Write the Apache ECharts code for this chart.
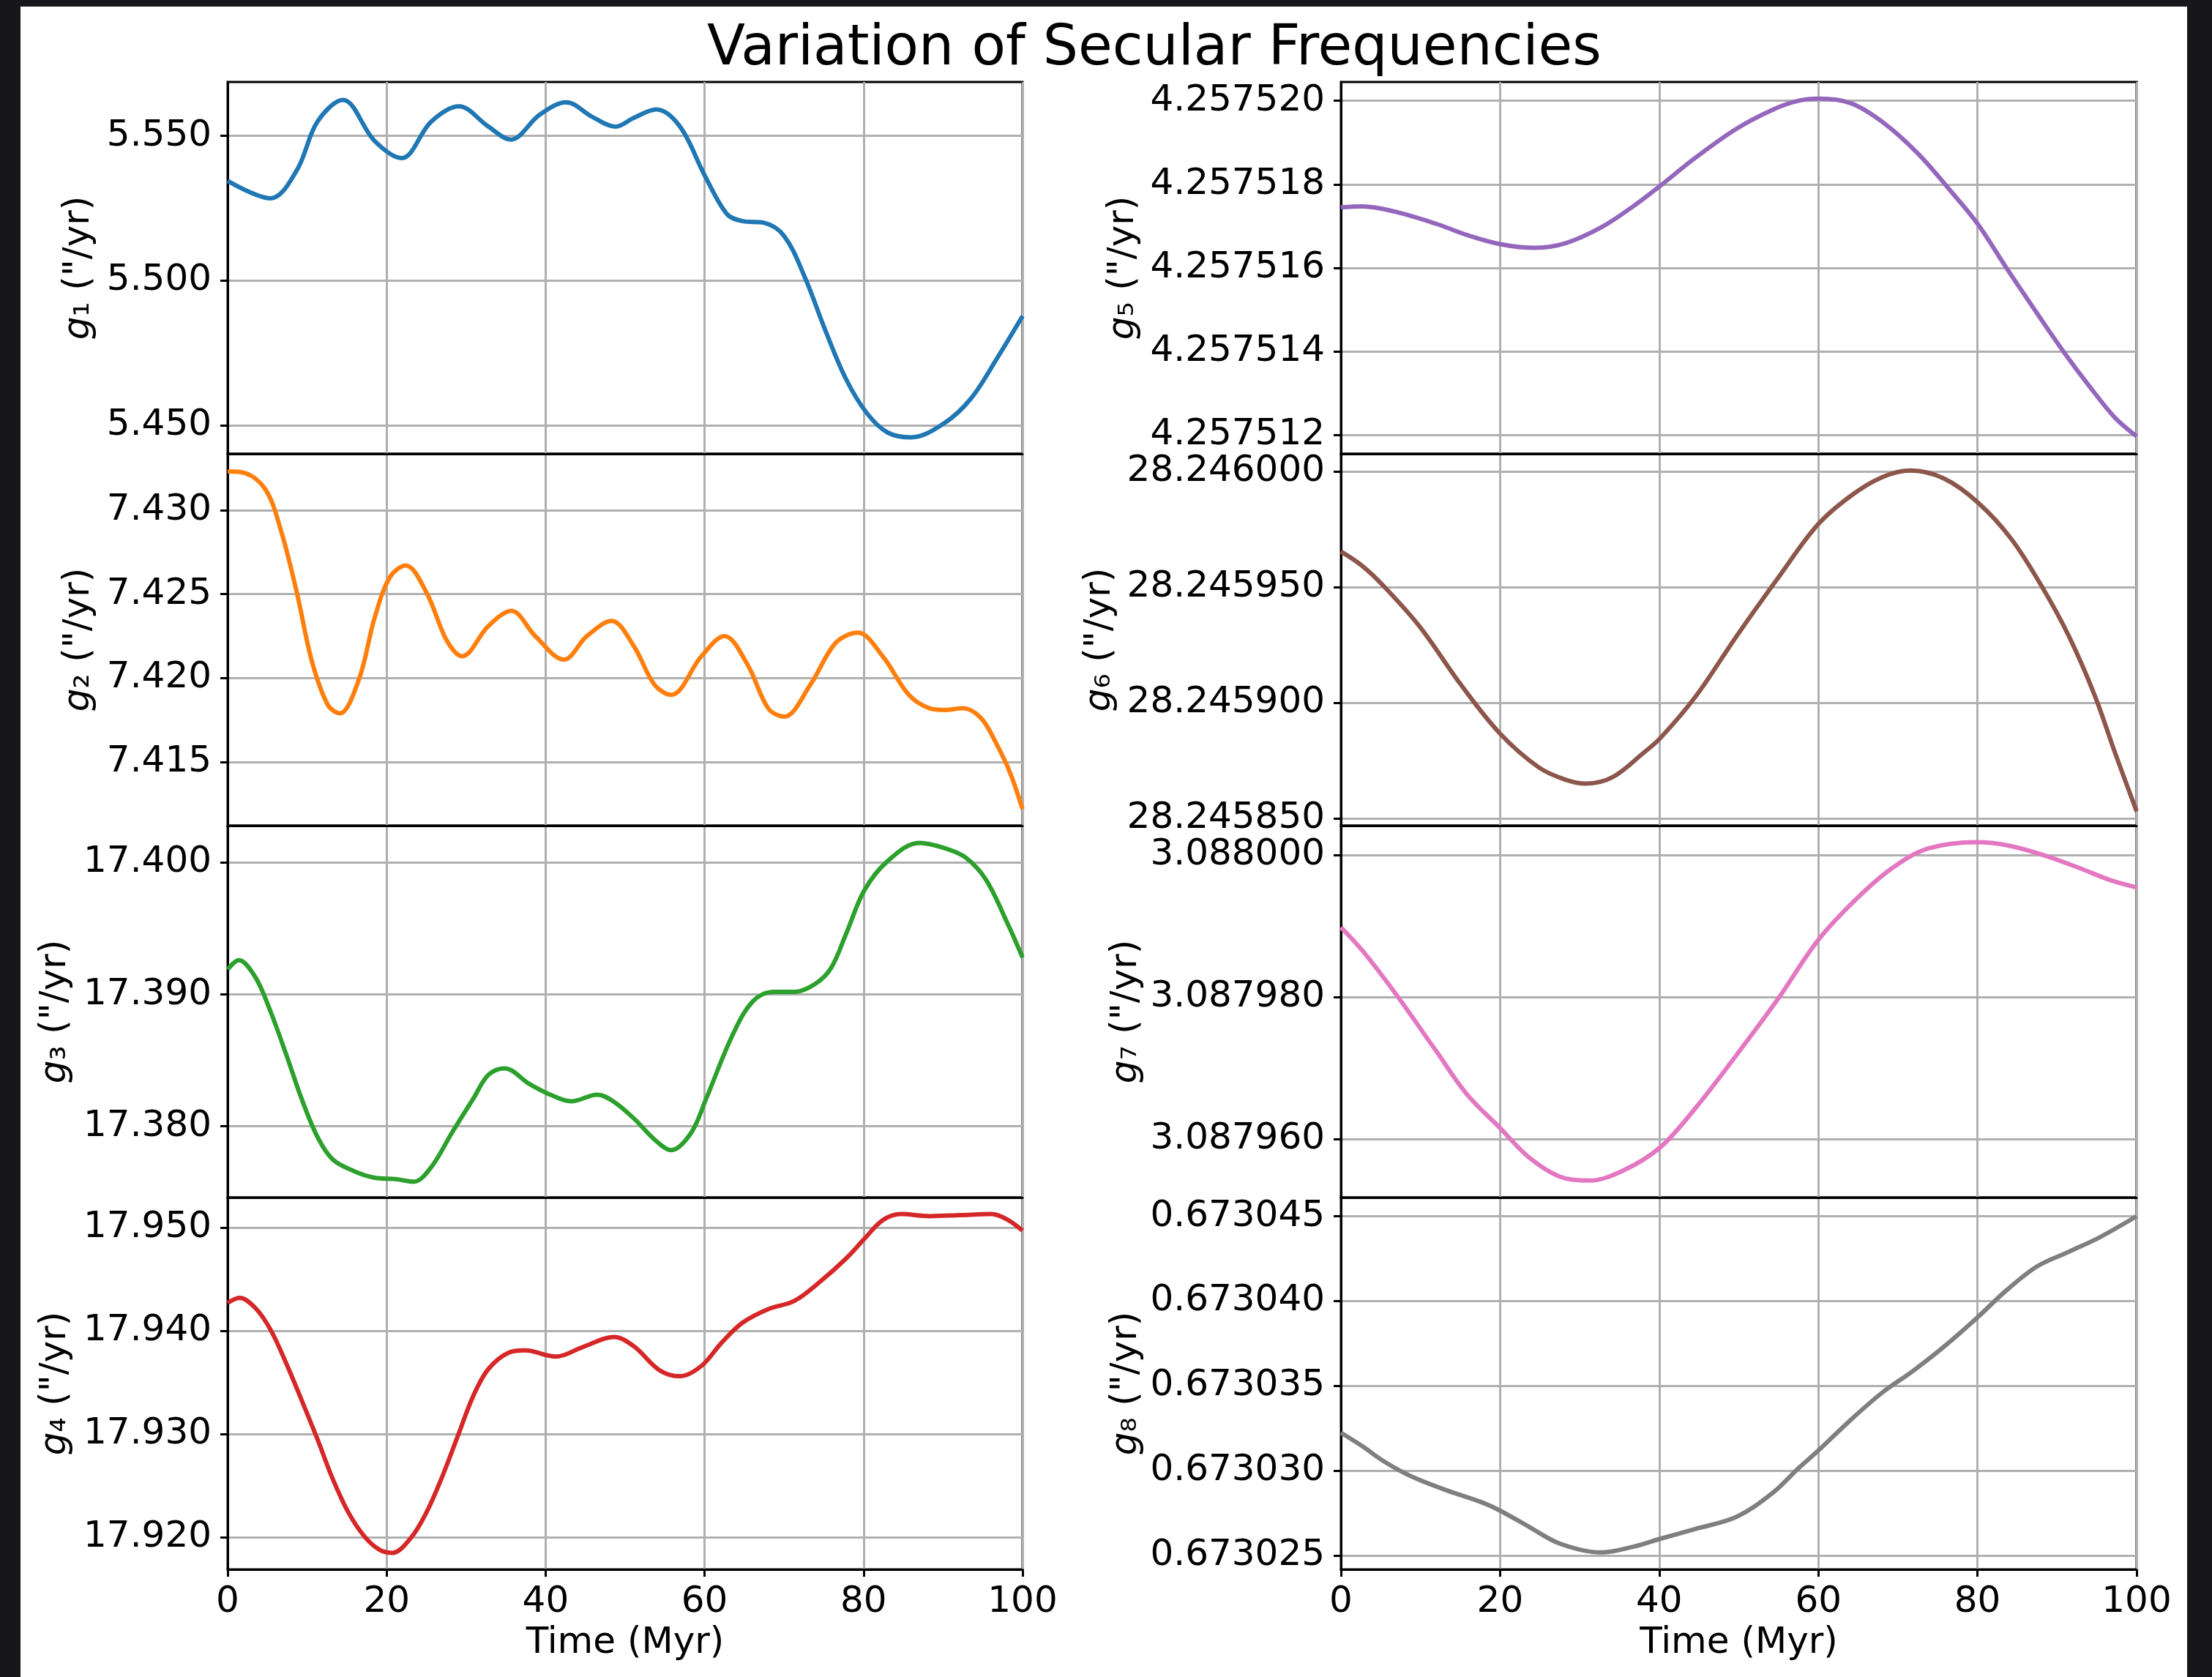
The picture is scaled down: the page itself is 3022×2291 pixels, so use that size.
<!DOCTYPE html>
<html>
<head>
<meta charset="utf-8">
<script src="https://cdn.jsdelivr.net/npm/echarts@6/dist/echarts.min.js"></script>
<style>
html, body { margin: 0; padding: 0; width: 3022px; height: 2291px; overflow: hidden; background: #17161b; }
#chart { position: absolute; left: 28px; top: 9px; width: 2960px; height: 2282px; background: #fff; }
</style>
</head>
<body>
<div id="chart"></div>
<script>
// time axis (Myr)
var timeTicks = [0, 20, 40, 60, 80, 100];

// g1 .. g8 secular frequencies ("/yr)
var g1T = [0, 5.4, 8.7, 11.3, 14.5, 18.5, 21.9, 25.6, 29.1, 32.8, 35.6, 39.3, 42.6, 45.9, 48.8, 51.1, 53.9, 56.9, 60, 62.8, 64.8, 67.4, 70, 72.6, 75.2, 77.8, 80.4, 83.0, 86.0, 90.2, 93.5, 96.7, 100];
var g1V = [5.5344, 5.5284, 5.5381, 5.5549, 5.5624, 5.5482, 5.5423, 5.5549, 5.5602, 5.5532, 5.5487, 5.5574, 5.5616, 5.5565, 5.5532, 5.5562, 5.5591, 5.5532, 5.5364, 5.5230, 5.5205, 5.5200, 5.5154, 5.5012, 5.4827, 5.4659, 5.4542, 5.4475, 5.4458, 5.4508, 5.4592, 5.4727, 5.4877];

var g2T = [0, 2.2, 4.8, 6.7, 8.7, 10.6, 12.6, 14.1, 16.5, 18.5, 20.4, 22.4, 25, 27.6, 29.5, 32.8, 35.7, 38.7, 42.3, 45.2, 48.3, 51.1, 53.7, 55.8, 59.6, 62.5, 65.4, 68, 70, 73.3, 76.5, 79.3, 82.4, 85.7, 88.3, 90.2, 92.5, 94.8, 96.7, 98.4, 100];
var g2V = [7.4323, 7.4322, 7.4312, 7.4288, 7.4251, 7.4210, 7.4184, 7.4179, 7.4199, 7.4236, 7.4260, 7.4267, 7.4251, 7.4222, 7.4213, 7.4231, 7.4240, 7.4225, 7.4211, 7.4225, 7.4234, 7.4219, 7.4196, 7.4190, 7.4213, 7.4225, 7.4208, 7.4182, 7.4177, 7.4196, 7.4221, 7.4227, 7.4213, 7.4190, 7.4182, 7.4181, 7.4182, 7.4176, 7.4161, 7.4144, 7.4122];

var g3T = [0, 1.4, 3.5, 5.4, 7.4, 9.3, 11.3, 13.2, 15.9, 18.5, 21.1, 23.4, 25.6, 28.2, 30.9, 32.8, 34.8, 38, 40.6, 43.2, 46.5, 48.5, 51.1, 53.7, 55.8, 58.3, 60.2, 63.5, 66.1, 68.7, 71.3, 73.9, 75.9, 77.8, 80.1, 83, 87, 90.2, 92.8, 95.4, 98.1, 100];
var g3V = [17.3919, 17.3926, 17.3913, 17.3887, 17.3854, 17.3821, 17.3792, 17.3775, 17.3766, 17.3761, 17.3760, 17.3758, 17.3769, 17.3795, 17.3821, 17.3839, 17.3844, 17.3832, 17.3824, 17.3819, 17.3824, 17.3819, 17.3806, 17.3790, 17.3782, 17.3795, 17.3821, 17.3869, 17.3895, 17.3902, 17.3902, 17.3908, 17.3920, 17.3946, 17.3979, 17.4001, 17.4015, 17.4011, 17.4004, 17.3987, 17.3954, 17.3928];

var g4T = [0, 1.5, 3.5, 5.4, 7.4, 9.3, 11.3, 13.2, 15.2, 17.2, 19.1, 20.7, 23, 25, 26.9, 28.9, 30.9, 32.8, 35.4, 37.4, 41.3, 44.6, 48.6, 51.1, 54.3, 56.9, 59.6, 62.2, 64.8, 68, 71.3, 74.6, 77.8, 80.1, 82.4, 84.7, 88.3, 92.2, 96.1, 98, 100];
var g4V = [17.9427, 17.9432, 17.9422, 17.9401, 17.9368, 17.9333, 17.9295, 17.9257, 17.9224, 17.9201, 17.9188, 17.9185, 17.9199, 17.9224, 17.9257, 17.9297, 17.9337, 17.9363, 17.9379, 17.9381, 17.9375, 17.9384, 17.9394, 17.9385, 17.9362, 17.9356, 17.9366, 17.9389, 17.9408, 17.9421, 17.9429, 17.9448, 17.9470, 17.9489, 17.9507, 17.9513, 17.9511, 17.9512, 17.9513, 17.9508, 17.9497];

var g5T = [0, 2.7, 6.7, 11.9, 15.8, 20, 24.3, 28.2, 32.7, 36.7, 39.9, 44.5, 49.7, 54.3, 57.5, 60.1, 64.1, 68, 72.5, 76.5, 80, 83.6, 87.5, 90.8, 94.1, 97.3, 100];
var g5V = [4.25751745, 4.25751747, 4.25751735, 4.25751706, 4.25751679, 4.25751657, 4.25751648, 4.25751659, 4.25751697, 4.25751747, 4.25751793, 4.25751863, 4.25751933, 4.25751979, 4.25752000, 4.25752005, 4.25751994, 4.25751950, 4.25751874, 4.25751787, 4.25751706, 4.25751601, 4.25751491, 4.25751400, 4.25751316, 4.25751241, 4.25751197];

var g6T = [0, 2.7, 5.3, 9.9, 15.1, 20, 24.9, 28.2, 30.8, 34.1, 38, 40.1, 44.5, 49.7, 54.9, 59.9, 64.1, 68, 71.6, 75.8, 80.1, 84.3, 88.2, 91.5, 94.7, 97.3, 100];
var g6V = [28.2459654, 28.2459591, 28.2459507, 28.2459329, 28.2459077, 28.2458867, 28.2458720, 28.2458668, 28.2458651, 28.2458678, 28.2458783, 28.2458846, 28.2459024, 28.2459287, 28.2459538, 28.2459769, 28.2459895, 28.2459975, 28.2460004, 28.2459969, 28.2459864, 28.2459706, 28.2459496, 28.2459287, 28.2459035, 28.2458783, 28.2458531];

var g7T = [0, 2.7, 6.7, 11.9, 15.8, 20, 23.6, 27.5, 31.2, 35.4, 40.1, 44.5, 49.7, 54.9, 59.9, 64.7, 69.3, 73.8, 80, 83.6, 88.2, 92.8, 96.7, 100];
var g7V = [3.08798981, 3.08798653, 3.08798072, 3.08797251, 3.08796636, 3.08796157, 3.08795747, 3.08795474, 3.08795419, 3.08795556, 3.08795884, 3.08796431, 3.08797183, 3.08797969, 3.08798790, 3.08799371, 3.08799815, 3.08800089, 3.08800178, 3.08800137, 3.08800000, 3.08799815, 3.08799644, 3.08799542];

var g8T = [0, 2.7, 5.3, 8.6, 13.2, 17.7, 20, 23.6, 27.5, 32.7, 36.6, 40.1, 44.5, 49.7, 54.3, 57.5, 59.9, 64.1, 68, 71.9, 75.8, 80, 83.6, 87.5, 91.5, 95.4, 100];
var g8V = [0.67303225, 0.67303145, 0.67303059, 0.67302973, 0.67302887, 0.67302815, 0.67302766, 0.67302672, 0.67302572, 0.67302520, 0.67302552, 0.67302600, 0.67302658, 0.67302729, 0.67302872, 0.67303016, 0.67303116, 0.67303302, 0.67303460, 0.67303589, 0.67303732, 0.67303904, 0.67304062, 0.67304205, 0.67304291, 0.67304377, 0.67304500];

// y tick labels
var g1Ticks = [5.450, 5.500, 5.550];
var g2Ticks = [7.415, 7.420, 7.425, 7.430];
var g3Ticks = [17.380, 17.390, 17.400];
var g4Ticks = [17.920, 17.930, 17.940, 17.950];
var g5Ticks = [4.257512, 4.257514, 4.257516, 4.257518, 4.257520];
var g6Ticks = [28.245850, 28.245900, 28.245950, 28.246000];
var g7Ticks = [3.087960, 3.087980, 3.088000];
var g8Ticks = [0.673025, 0.673030, 0.673035, 0.673040, 0.673045];

var colors = ['#1f77b4', '#ff7f0e', '#2ca02c', '#d62728', '#9467bd', '#8c564b', '#e377c2', '#7f7f7f'];

var panels = [
    {t: g1T, v: g1V, ticks: g1Ticks, min: 5.4401, max: 5.5686, dec: 3, sub: '\u2081', col: 0, row: 0, gap: 180},
    {t: g2T, v: g2V, ticks: g2Ticks, min: 7.41121, max: 7.43335, dec: 3, sub: '\u2082', col: 0, row: 1, gap: 180},
    {t: g3T, v: g3V, ticks: g3Ticks, min: 17.3746, max: 17.4028, dec: 3, sub: '\u2083', col: 0, row: 2, gap: 212},
    {t: g4T, v: g4V, ticks: g4Ticks, min: 17.9169, max: 17.9529, dec: 3, sub: '\u2084', col: 0, row: 3, gap: 212},
    {t: g5T, v: g5V, ticks: g5Ticks, min: 4.25751155, max: 4.25752045, dec: 6, sub: '\u2085', col: 1, row: 0, gap: 274},
    {t: g6T, v: g6V, ticks: g6Ticks, min: 28.2458469, max: 28.2460076, dec: 6, sub: '\u2086', col: 1, row: 1, gap: 306},
    {t: g7T, v: g7V, ticks: g7Ticks, min: 3.0879518, max: 3.0880041, dec: 6, sub: '\u2087', col: 1, row: 2, gap: 270},
    {t: g8T, v: g8V, ticks: g8Ticks, min: 0.6730242, max: 0.6730461, dec: 6, sub: '\u2088', col: 1, row: 3, gap: 270}
];

var font = 'DejaVu Sans';
var fs = 50;
var colLeft = [283, 1804];
var colWidth = [1086, 1087];
var rowTop = [103, 611, 1119, 1627];
var rowHeight = 508;

var grids = [], xAxes = [], yAxes = [], series = [];

panels.forEach(function (p, i) {
    var bottom = p.row === 3;
    grids.push({
        left: colLeft[p.col], top: rowTop[p.row], width: colWidth[p.col], height: rowHeight,
        show: true, borderColor: '#000', borderWidth: 3, backgroundColor: 'transparent'
    });
    xAxes.push({
        type: 'value', gridIndex: i, min: 0, max: 100, interval: 20,
        name: bottom ? 'Time (Myr)' : '', nameLocation: 'middle', nameGap: 76,
        nameTextStyle: {fontFamily: font, fontSize: fs, color: '#000'},
        axisLine: {show: true, lineStyle: {color: '#000', width: 3}},
        axisTick: {show: bottom, length: 10, lineStyle: {color: '#000', width: 3}},
        axisLabel: {show: bottom, margin: 20, fontFamily: font, fontSize: fs, color: '#000'},
        splitLine: {show: true, lineStyle: {color: '#b0b0b0', width: 3}}
    });
    yAxes.push({
        type: 'value', gridIndex: i, min: p.min, max: p.max, scale: true,
        name: '{it|g}' + p.sub + ' ("/yr)', nameLocation: 'middle', nameGap: p.gap - 2,
        nameTextStyle: {fontFamily: font, fontSize: fs, color: '#000',
            rich: {it: {fontFamily: font, fontSize: fs, fontStyle: 'italic', color: '#000'}}},
        axisLine: {show: true, lineStyle: {color: '#000', width: 3}},
        axisTick: {show: true, length: 10, customValues: p.ticks, lineStyle: {color: '#000', width: 3}},
        axisLabel: {
            margin: 22, fontFamily: font, fontSize: fs, color: '#000', customValues: p.ticks,
            formatter: (function (d) { return function (v) { return v.toFixed(d); }; })(p.dec)
        },
        splitLine: {show: true, lineStyle: {color: '#b0b0b0', width: 3}}
    });
    series.push({
        type: 'line', xAxisIndex: i, yAxisIndex: i,
        data: p.t.map(function (t, k) { return [t, p.v[k]]; }),
        showSymbol: false, smooth: 0.35,
        lineStyle: {color: colors[i], width: 6},
        itemStyle: {color: colors[i]}
    });
});

var myChart = echarts.init(document.getElementById('chart'));

var option = {
    animation: false,
    backgroundColor: '#fff',
    title: {
        text: 'Variation of Secular Frequencies',
        left: 1544, top: 16, textAlign: 'center',
        textStyle: {fontFamily: font, fontSize: 76, fontWeight: 'normal', color: '#000'}
    },
    grid: grids,
    xAxis: xAxes,
    yAxis: yAxes,
    series: series
};

myChart.setOption(option);
</script>
</body>
</html>
